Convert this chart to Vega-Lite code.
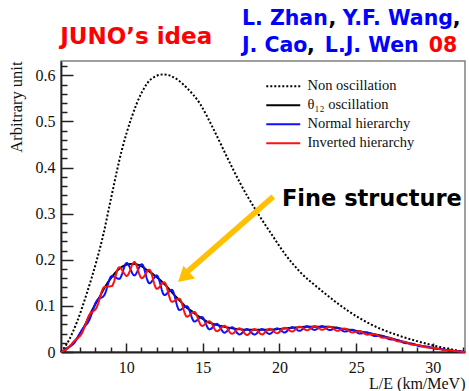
{
  "$schema": "https://vega.github.io/schema/vega-lite/v6.json",
  "autosize": {"type": "none"},
  "padding": {"left": 61, "top": 61, "right": 4, "bottom": 39},
  "width": 404,
  "height": 291,
  "background": "white",
  "config": {
    "view": {"stroke": "#808080", "strokeWidth": 1.5},
    "axis": {"grid": false, "labelFont": "Liberation Serif", "labelFontSize": 16, "labelColor": "#111", "titleFont": "Liberation Serif", "titleFontSize": 16, "titleFontWeight": "normal", "titleColor": "#111", "domainColor": "#222", "domainWidth": 1.8, "tickColor": "#222", "tickWidth": 1.5}
  },
  "resolve": {"axis": {"x": "independent", "y": "independent"}},
  "layer": [
    {
      "data": {"values": [
        {"series": "Non oscillation", "x": 5.75, "y": 0},
        {"series": "Non oscillation", "x": 6.24, "y": 0.024},
        {"series": "Non oscillation", "x": 6.79, "y": 0.065},
        {"series": "Non oscillation", "x": 7.44, "y": 0.128},
        {"series": "Non oscillation", "x": 8.09, "y": 0.2},
        {"series": "Non oscillation", "x": 8.52, "y": 0.256},
        {"series": "Non oscillation", "x": 8.96, "y": 0.325},
        {"series": "Non oscillation", "x": 9.72, "y": 0.438},
        {"series": "Non oscillation", "x": 10.37, "y": 0.51},
        {"series": "Non oscillation", "x": 11.02, "y": 0.563},
        {"series": "Non oscillation", "x": 11.67, "y": 0.593},
        {"series": "Non oscillation", "x": 12.43, "y": 0.602},
        {"series": "Non oscillation", "x": 13.19, "y": 0.594},
        {"series": "Non oscillation", "x": 13.95, "y": 0.573},
        {"series": "Non oscillation", "x": 14.82, "y": 0.538},
        {"series": "Non oscillation", "x": 15.67, "y": 0.485},
        {"series": "Non oscillation", "x": 16.56, "y": 0.424},
        {"series": "Non oscillation", "x": 17.42, "y": 0.367},
        {"series": "Non oscillation", "x": 18.6, "y": 0.3},
        {"series": "Non oscillation", "x": 19.47, "y": 0.256},
        {"series": "Non oscillation", "x": 20.46, "y": 0.208},
        {"series": "Non oscillation", "x": 21.33, "y": 0.174},
        {"series": "Non oscillation", "x": 22.63, "y": 0.136},
        {"series": "Non oscillation", "x": 23.93, "y": 0.102},
        {"series": "Non oscillation", "x": 25.24, "y": 0.073},
        {"series": "Non oscillation", "x": 26.54, "y": 0.051},
        {"series": "Non oscillation", "x": 27.84, "y": 0.035},
        {"series": "Non oscillation", "x": 29.14, "y": 0.022},
        {"series": "Non oscillation", "x": 30.45, "y": 0.011},
        {"series": "Non oscillation", "x": 31.95, "y": 0.001},
        {"series": "Non oscillation", "x": 32.1, "y": 0},
        {"series": "θ₁₂ oscillation", "x": 5.75, "y": 0},
        {"series": "θ₁₂ oscillation", "x": 6.0, "y": 0.004},
        {"series": "θ₁₂ oscillation", "x": 6.36, "y": 0.014},
        {"series": "θ₁₂ oscillation", "x": 6.7, "y": 0.026},
        {"series": "θ₁₂ oscillation", "x": 7.0, "y": 0.04},
        {"series": "θ₁₂ oscillation", "x": 7.33, "y": 0.06},
        {"series": "θ₁₂ oscillation", "x": 7.66, "y": 0.083},
        {"series": "θ₁₂ oscillation", "x": 8.0, "y": 0.104},
        {"series": "θ₁₂ oscillation", "x": 8.31, "y": 0.122},
        {"series": "θ₁₂ oscillation", "x": 8.6, "y": 0.14},
        {"series": "θ₁₂ oscillation", "x": 8.96, "y": 0.158},
        {"series": "θ₁₂ oscillation", "x": 9.3, "y": 0.172},
        {"series": "θ₁₂ oscillation", "x": 9.61, "y": 0.182},
        {"series": "θ₁₂ oscillation", "x": 10.0, "y": 0.189},
        {"series": "θ₁₂ oscillation", "x": 10.4, "y": 0.191},
        {"series": "θ₁₂ oscillation", "x": 10.7, "y": 0.19},
        {"series": "θ₁₂ oscillation", "x": 11.0, "y": 0.186},
        {"series": "θ₁₂ oscillation", "x": 11.35, "y": 0.178},
        {"series": "θ₁₂ oscillation", "x": 11.7, "y": 0.17},
        {"series": "θ₁₂ oscillation", "x": 12.0, "y": 0.162},
        {"series": "θ₁₂ oscillation", "x": 12.35, "y": 0.152},
        {"series": "θ₁₂ oscillation", "x": 12.65, "y": 0.142},
        {"series": "θ₁₂ oscillation", "x": 13.0, "y": 0.129},
        {"series": "θ₁₂ oscillation", "x": 13.3, "y": 0.118},
        {"series": "θ₁₂ oscillation", "x": 13.65, "y": 0.106},
        {"series": "θ₁₂ oscillation", "x": 13.95, "y": 0.096},
        {"series": "θ₁₂ oscillation", "x": 14.3, "y": 0.088},
        {"series": "θ₁₂ oscillation", "x": 14.6, "y": 0.08},
        {"series": "θ₁₂ oscillation", "x": 14.95, "y": 0.073},
        {"series": "θ₁₂ oscillation", "x": 15.26, "y": 0.066},
        {"series": "θ₁₂ oscillation", "x": 15.6, "y": 0.062},
        {"series": "θ₁₂ oscillation", "x": 16.0, "y": 0.058},
        {"series": "θ₁₂ oscillation", "x": 16.5, "y": 0.054},
        {"series": "θ₁₂ oscillation", "x": 17.0, "y": 0.051},
        {"series": "θ₁₂ oscillation", "x": 17.5, "y": 0.049},
        {"series": "θ₁₂ oscillation", "x": 18.0, "y": 0.048},
        {"series": "θ₁₂ oscillation", "x": 19.0, "y": 0.048},
        {"series": "θ₁₂ oscillation", "x": 20.0, "y": 0.05},
        {"series": "θ₁₂ oscillation", "x": 21.0, "y": 0.053},
        {"series": "θ₁₂ oscillation", "x": 22.0, "y": 0.055},
        {"series": "θ₁₂ oscillation", "x": 23.0, "y": 0.055},
        {"series": "θ₁₂ oscillation", "x": 24.0, "y": 0.051},
        {"series": "θ₁₂ oscillation", "x": 25.0, "y": 0.046},
        {"series": "θ₁₂ oscillation", "x": 26.0, "y": 0.04},
        {"series": "θ₁₂ oscillation", "x": 27.0, "y": 0.032},
        {"series": "θ₁₂ oscillation", "x": 28.0, "y": 0.023},
        {"series": "θ₁₂ oscillation", "x": 29.0, "y": 0.015},
        {"series": "θ₁₂ oscillation", "x": 30.0, "y": 0.009},
        {"series": "θ₁₂ oscillation", "x": 31.0, "y": 0.004},
        {"series": "θ₁₂ oscillation", "x": 32.1, "y": 0},
        {"series": "Normal hierarchy", "x": 5.75, "y": 0},
        {"series": "Normal hierarchy", "x": 6.12, "y": 0.0075},
        {"series": "Normal hierarchy", "x": 6.61, "y": 0.0195},
        {"series": "Normal hierarchy", "x": 7.10, "y": 0.047},
        {"series": "Normal hierarchy", "x": 7.59, "y": 0.069},
        {"series": "Normal hierarchy", "x": 8.08, "y": 0.111},
        {"series": "Normal hierarchy", "x": 8.57, "y": 0.123},
        {"series": "Normal hierarchy", "x": 9.06, "y": 0.165},
        {"series": "Normal hierarchy", "x": 9.55, "y": 0.1585},
        {"series": "Normal hierarchy", "x": 10.04, "y": 0.193},
        {"series": "Normal hierarchy", "x": 10.53, "y": 0.166},
        {"series": "Normal hierarchy", "x": 11.02, "y": 0.1905},
        {"series": "Normal hierarchy", "x": 11.51, "y": 0.149},
        {"series": "Normal hierarchy", "x": 12.0, "y": 0.166},
        {"series": "Normal hierarchy", "x": 12.49, "y": 0.1235},
        {"series": "Normal hierarchy", "x": 12.98, "y": 0.135},
        {"series": "Normal hierarchy", "x": 13.47, "y": 0.091},
        {"series": "Normal hierarchy", "x": 13.96, "y": 0.0994},
        {"series": "Normal hierarchy", "x": 14.45, "y": 0.066},
        {"series": "Normal hierarchy", "x": 14.94, "y": 0.076},
        {"series": "Normal hierarchy", "x": 15.43, "y": 0.049},
        {"series": "Normal hierarchy", "x": 15.92, "y": 0.061},
        {"series": "Normal hierarchy", "x": 16.41, "y": 0.042},
        {"series": "Normal hierarchy", "x": 16.90, "y": 0.0537},
        {"series": "Normal hierarchy", "x": 17.39, "y": 0.038},
        {"series": "Normal hierarchy", "x": 17.88, "y": 0.05},
        {"series": "Normal hierarchy", "x": 18.37, "y": 0.0377},
        {"series": "Normal hierarchy", "x": 18.86, "y": 0.0497},
        {"series": "Normal hierarchy", "x": 19.35, "y": 0.0392},
        {"series": "Normal hierarchy", "x": 19.84, "y": 0.0513},
        {"series": "Normal hierarchy", "x": 20.33, "y": 0.0425},
        {"series": "Normal hierarchy", "x": 20.82, "y": 0.054},
        {"series": "Normal hierarchy", "x": 21.31, "y": 0.0459},
        {"series": "Normal hierarchy", "x": 21.80, "y": 0.056},
        {"series": "Normal hierarchy", "x": 22.29, "y": 0.0479},
        {"series": "Normal hierarchy", "x": 22.78, "y": 0.0562},
        {"series": "Normal hierarchy", "x": 23.27, "y": 0.0475},
        {"series": "Normal hierarchy", "x": 23.76, "y": 0.053},
        {"series": "Normal hierarchy", "x": 24.25, "y": 0.0444},
        {"series": "Normal hierarchy", "x": 24.74, "y": 0.0482},
        {"series": "Normal hierarchy", "x": 25.23, "y": 0.04},
        {"series": "Normal hierarchy", "x": 25.72, "y": 0.0424},
        {"series": "Normal hierarchy", "x": 26.21, "y": 0.0346},
        {"series": "Normal hierarchy", "x": 26.70, "y": 0.035},
        {"series": "Normal hierarchy", "x": 27.19, "y": 0.0274},
        {"series": "Normal hierarchy", "x": 27.68, "y": 0.0263},
        {"series": "Normal hierarchy", "x": 28.17, "y": 0.0194},
        {"series": "Normal hierarchy", "x": 28.66, "y": 0.018},
        {"series": "Normal hierarchy", "x": 29.15, "y": 0.0125},
        {"series": "Normal hierarchy", "x": 29.64, "y": 0.0114},
        {"series": "Normal hierarchy", "x": 30.13, "y": 0.0073},
        {"series": "Normal hierarchy", "x": 30.62, "y": 0.006},
        {"series": "Normal hierarchy", "x": 31.11, "y": 0.0031},
        {"series": "Normal hierarchy", "x": 31.60, "y": 0.0018},
        {"series": "Normal hierarchy", "x": 32.1, "y": 0},
        {"series": "Inverted hierarchy", "x": 5.75, "y": 0},
        {"series": "Inverted hierarchy", "x": 6.12, "y": 0.0062},
        {"series": "Inverted hierarchy", "x": 6.61, "y": 0.0234},
        {"series": "Inverted hierarchy", "x": 7.10, "y": 0.04},
        {"series": "Inverted hierarchy", "x": 7.59, "y": 0.0795},
        {"series": "Inverted hierarchy", "x": 8.08, "y": 0.097},
        {"series": "Inverted hierarchy", "x": 8.57, "y": 0.141},
        {"series": "Inverted hierarchy", "x": 9.06, "y": 0.143},
        {"series": "Inverted hierarchy", "x": 9.55, "y": 0.184},
        {"series": "Inverted hierarchy", "x": 10.04, "y": 0.165},
        {"series": "Inverted hierarchy", "x": 10.53, "y": 0.195},
        {"series": "Inverted hierarchy", "x": 11.02, "y": 0.16},
        {"series": "Inverted hierarchy", "x": 11.51, "y": 0.1785},
        {"series": "Inverted hierarchy", "x": 12.0, "y": 0.137},
        {"series": "Inverted hierarchy", "x": 12.49, "y": 0.151},
        {"series": "Inverted hierarchy", "x": 12.98, "y": 0.109},
        {"series": "Inverted hierarchy", "x": 13.47, "y": 0.1156},
        {"series": "Inverted hierarchy", "x": 13.96, "y": 0.0766},
        {"series": "Inverted hierarchy", "x": 14.45, "y": 0.087},
        {"series": "Inverted hierarchy", "x": 14.94, "y": 0.0565},
        {"series": "Inverted hierarchy", "x": 15.43, "y": 0.0667},
        {"series": "Inverted hierarchy", "x": 15.92, "y": 0.045},
        {"series": "Inverted hierarchy", "x": 16.41, "y": 0.057},
        {"series": "Inverted hierarchy", "x": 16.90, "y": 0.0396},
        {"series": "Inverted hierarchy", "x": 17.39, "y": 0.0514},
        {"series": "Inverted hierarchy", "x": 17.88, "y": 0.037},
        {"series": "Inverted hierarchy", "x": 18.37, "y": 0.0498},
        {"series": "Inverted hierarchy", "x": 18.86, "y": 0.0382},
        {"series": "Inverted hierarchy", "x": 19.35, "y": 0.0504},
        {"series": "Inverted hierarchy", "x": 19.84, "y": 0.0407},
        {"series": "Inverted hierarchy", "x": 20.33, "y": 0.0525},
        {"series": "Inverted hierarchy", "x": 20.82, "y": 0.0444},
        {"series": "Inverted hierarchy", "x": 21.31, "y": 0.055},
        {"series": "Inverted hierarchy", "x": 21.80, "y": 0.0471},
        {"series": "Inverted hierarchy", "x": 22.29, "y": 0.0563},
        {"series": "Inverted hierarchy", "x": 22.78, "y": 0.0483},
        {"series": "Inverted hierarchy", "x": 23.27, "y": 0.055},
        {"series": "Inverted hierarchy", "x": 23.76, "y": 0.0461},
        {"series": "Inverted hierarchy", "x": 24.25, "y": 0.0508},
        {"series": "Inverted hierarchy", "x": 24.74, "y": 0.0424},
        {"series": "Inverted hierarchy", "x": 25.23, "y": 0.0454},
        {"series": "Inverted hierarchy", "x": 25.72, "y": 0.0376},
        {"series": "Inverted hierarchy", "x": 26.21, "y": 0.0389},
        {"series": "Inverted hierarchy", "x": 26.70, "y": 0.0312},
        {"series": "Inverted hierarchy", "x": 27.19, "y": 0.0308},
        {"series": "Inverted hierarchy", "x": 27.68, "y": 0.0233},
        {"series": "Inverted hierarchy", "x": 28.17, "y": 0.022},
        {"series": "Inverted hierarchy", "x": 28.66, "y": 0.0157},
        {"series": "Inverted hierarchy", "x": 29.15, "y": 0.0144},
        {"series": "Inverted hierarchy", "x": 29.64, "y": 0.0098},
        {"series": "Inverted hierarchy", "x": 30.13, "y": 0.0086},
        {"series": "Inverted hierarchy", "x": 30.62, "y": 0.0051},
        {"series": "Inverted hierarchy", "x": 31.11, "y": 0.0037},
        {"series": "Inverted hierarchy", "x": 31.60, "y": 0.0016},
        {"series": "Inverted hierarchy", "x": 32.1, "y": 0}
      ]},
      "mark": {"type": "line", "interpolate": "monotone", "strokeWidth": 2},
      "encoding": {
        "x": {"field": "x", "type": "quantitative",
          "scale": {"domain": [5.75, 32.1], "nice": false, "zero": false},
          "axis": {
            "orient": "bottom",
            "values": [10, 15, 20, 25, 30],
            "format": "d",
            "title": "L/E (km/MeV)", "titleAnchor": "end", "titleAlign": "right", "titleX": 404, "titleY": 36, "titleBaseline": "alphabetic",
            "tickSize": -9,
            "labelPadding": 16, "labelFlush": false, "labelOverlap": false
          }
        },
        "y": {"field": "y", "type": "quantitative",
          "scale": {"domain": [0, 0.631], "nice": false},
          "axis": {
            "orient": "left",
            "values": [0, 0.1, 0.2, 0.3, 0.4, 0.5, 0.6],
            "labelExpr": "format(datum.value, '.1~f')",
            "title": "Arbitrary unit", "titleAnchor": "end", "titleAlign": "right", "titleAngle": -90, "titleX": -37, "titleY": 0, "titleBaseline": "bottom", "titleFontSize": 16.5,
            "tickSize": -12,
            "labelPadding": 18, "labelFlush": false, "labelOverlap": false
          }
        },
        "color": {"field": "series", "type": "nominal",
          "scale": {"domain": ["Non oscillation", "θ₁₂ oscillation", "Normal hierarchy", "Inverted hierarchy"], "range": ["#000000", "#000000", "#1010ff", "#ff1010"]},
          "legend": {"title": null, "orient": "none", "legendX": 215, "legendY": 18, "symbolType": "M-3,0H3", "symbolSize": 128, "symbolStrokeWidth": 2, "labelFont": "Liberation Serif", "labelFontSize": 14.5, "labelColor": "#111", "labelOffset": 17, "rowPadding": 4, "padding": 0}
        },
        "strokeDash": {"field": "series", "type": "nominal",
          "scale": {"domain": ["Non oscillation", "θ₁₂ oscillation", "Normal hierarchy", "Inverted hierarchy"], "range": [[2, 2], [1, 0], [1, 0], [1, 0]]},
          "legend": {"title": null, "orient": "none", "legendX": 215, "legendY": 18, "symbolType": "M-3,0H3", "symbolSize": 128, "symbolStrokeWidth": 2, "labelFont": "Liberation Serif", "labelFontSize": 14.5, "labelColor": "#111", "labelOffset": 17, "rowPadding": 4, "padding": 0}
        }
      }
    },
    {
      "data": {"values": [{}]},
      "mark": {"type": "rule", "color": "#ffc000", "strokeWidth": 5.5},
      "encoding": {
        "x": {"datum": 19.59, "type": "quantitative",
          "axis": {"orient": "bottom", "values": [6,7,8,9,11,12,13,14,16,17,18,19,21,22,23,24,26,27,28,29,31,32], "tickSize": -5, "labels": false, "domain": false, "title": null, "grid": false}},
        "y": {"datum": 0.337, "type": "quantitative",
          "axis": {"orient": "left", "values": [0.02,0.04,0.06,0.08,0.12,0.14,0.16,0.18,0.22,0.24,0.26,0.28,0.32,0.34,0.36,0.38,0.42,0.44,0.46,0.48,0.52,0.54,0.56,0.58,0.62], "tickSize": -6, "labels": false, "domain": false, "title": null, "grid": false}},
        "x2": {"datum": 13.85},
        "y2": {"datum": 0.17}
      }
    },
    {
      "data": {"values": [{}]},
      "mark": {"type": "point", "shape": "triangle-up", "filled": true, "color": "#ffc000", "opacity": 1, "size": 300, "angle": 228},
      "encoding": {
        "x": {"datum": 13.75, "type": "quantitative", "axis": null},
        "y": {"datum": 0.1624, "type": "quantitative", "axis": null}
      }
    },
    {
      "data": {"values": [{}]},
      "mark": {"type": "text", "text": "Fine structure", "font": "DejaVu Sans", "fontWeight": "bold", "fontSize": 22.5, "color": "#000000", "align": "left", "baseline": "alphabetic"},
      "encoding": {
        "x": {"datum": 20.16, "type": "quantitative", "axis": null},
        "y": {"datum": 0.3166, "type": "quantitative", "axis": null}
      }
    },
    {
      "data": {"values": [{}]},
      "mark": {"type": "text", "text": "JUNO’s idea", "font": "DejaVu Sans", "fontWeight": "bold", "fontSize": 23, "color": "#ff0000", "align": "left", "baseline": "alphabetic"},
      "encoding": {
        "x": {"datum": 5.7, "type": "quantitative", "axis": null},
        "y": {"datum": 0.668, "type": "quantitative", "axis": null}
      }
    },
    {
      "data": {"values": [{}]},
      "mark": {"type": "text", "text": "L. Zhan", "font": "DejaVu Sans", "fontWeight": "bold", "fontSize": 20.5, "color": "#0000ff", "align": "left", "baseline": "alphabetic"},
      "encoding": {
        "x": {"datum": 17.55, "type": "quantitative", "axis": null},
        "y": {"datum": 0.7092, "type": "quantitative", "axis": null}
      }
    },
    {
      "data": {"values": [{}]},
      "mark": {"type": "text", "text": ",", "font": "DejaVu Sans", "fontWeight": "bold", "fontSize": 20.5, "color": "#000000", "align": "left", "baseline": "alphabetic"},
      "encoding": {
        "x": {"datum": 23.2, "type": "quantitative", "axis": null},
        "y": {"datum": 0.7092, "type": "quantitative", "axis": null}
      }
    },
    {
      "data": {"values": [{}]},
      "mark": {"type": "text", "text": "Y.F. Wang", "font": "DejaVu Sans", "fontWeight": "bold", "fontSize": 20.5, "color": "#0000ff", "align": "left", "baseline": "alphabetic"},
      "encoding": {
        "x": {"datum": 24.13, "type": "quantitative", "axis": null},
        "y": {"datum": 0.7092, "type": "quantitative", "axis": null}
      }
    },
    {
      "data": {"values": [{}]},
      "mark": {"type": "text", "text": ",", "font": "DejaVu Sans", "fontWeight": "bold", "fontSize": 20.5, "color": "#000000", "align": "left", "baseline": "alphabetic"},
      "encoding": {
        "x": {"datum": 31.3, "type": "quantitative", "axis": null},
        "y": {"datum": 0.7092, "type": "quantitative", "axis": null}
      }
    },
    {
      "data": {"values": [{}]},
      "mark": {"type": "text", "text": "J. Cao", "font": "DejaVu Sans", "fontWeight": "bold", "fontSize": 20.5, "color": "#0000ff", "align": "left", "baseline": "alphabetic"},
      "encoding": {
        "x": {"datum": 17.55, "type": "quantitative", "axis": null},
        "y": {"datum": 0.6506, "type": "quantitative", "axis": null}
      }
    },
    {
      "data": {"values": [{}]},
      "mark": {"type": "text", "text": ",", "font": "DejaVu Sans", "fontWeight": "bold", "fontSize": 20.5, "color": "#000000", "align": "left", "baseline": "alphabetic"},
      "encoding": {
        "x": {"datum": 21.8, "type": "quantitative", "axis": null},
        "y": {"datum": 0.6506, "type": "quantitative", "axis": null}
      }
    },
    {
      "data": {"values": [{}]},
      "mark": {"type": "text", "text": "L.J. Wen", "font": "DejaVu Sans", "fontWeight": "bold", "fontSize": 20.5, "color": "#0000ff", "align": "left", "baseline": "alphabetic"},
      "encoding": {
        "x": {"datum": 22.96, "type": "quantitative", "axis": null},
        "y": {"datum": 0.6506, "type": "quantitative", "axis": null}
      }
    },
    {
      "data": {"values": [{}]},
      "mark": {"type": "text", "text": "08", "font": "DejaVu Sans", "fontWeight": "bold", "fontSize": 20.5, "color": "#ff0000", "align": "left", "baseline": "alphabetic"},
      "encoding": {
        "x": {"datum": 29.73, "type": "quantitative", "axis": null},
        "y": {"datum": 0.6506, "type": "quantitative", "axis": null}
      }
    }
  ]
}
